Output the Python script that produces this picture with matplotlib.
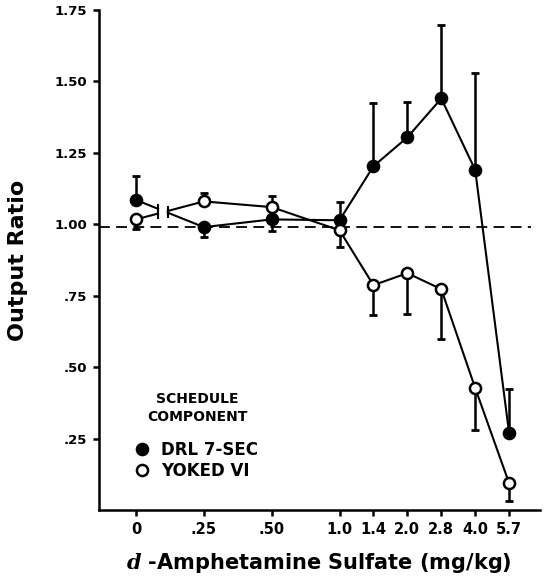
import numpy as np
import matplotlib
matplotlib.use("Agg")
import matplotlib.pyplot as plt

plt.rcParams['font.family'] = ['DejaVu Sans']
plt.rcParams['font.weight'] = 'bold'
plt.rcParams['axes.labelweight'] = 'bold'
plt.rcParams['mathtext.fontset'] = 'custom'
plt.rcParams['mathtext.it'] = 'DejaVu Serif:italic:bold'

# doses (mg/kg) and their slot on the categorical axis
doses = ['0', '.25', '.50', '1.0', '1.4', '2.0', '2.8', '4.0', '5.7']
slots = [0, 2, 4, 6, 7, 8, 9, 10, 11]

drl = [1.085, 0.99, 1.017, 1.014, 1.203, 1.304, 1.44, 1.19, 0.269]
drl_up = [0.085, 0, 0, 0.063, 0.22, 0.123, 0.256, 0.34, 0.154]
drl_lo = [0, 0.035, 0.042, 0, 0, 0, 0, 0, 0]

yoked = [1.017, 1.08, 1.06, 0.979, 0.787, 0.829, 0.773, 0.427, 0.094]
yoked_up = [0, 0.028, 0.038, 0, 0, 0, 0, 0, 0]
yoked_lo = [0.034, 0, 0, 0.059, 0.105, 0.144, 0.173, 0.147, 0.063]

yticks = [0.25, 0.50, 0.75, 1.00, 1.25, 1.50, 1.75]
ytick_labels = ['.25', '.50', '.75', '1.00', '1.25', '1.50', '1.75']

gap = (0.65, 0.94)  # break in the connecting line between 0 and .25

fig = plt.figure(figsize=(5.44, 5.81), dpi=100)
ax = fig.add_axes([0.182, 0.122, 0.81, 0.861])

ax.axhline(0.99, xmin=0, xmax=0.98, color='black', lw=1.3, ls=(0, (6, 3.5)), zorder=1)

for vals, up, lo, face, lab in [(drl, drl_up, drl_lo, 'black', 'DRL 7-SEC'),
                                (yoked, yoked_up, yoked_lo, 'white', 'YOKED VI')]:
    x = np.array(slots, dtype=float)
    y = np.array(vals)
    # line, broken between the first two doses
    yg = np.interp(gap, x[:2], y[:2])
    ax.plot([x[0], gap[0]], [y[0], yg[0]], color='black', lw=1.5, zorder=2)
    ax.plot([gap[1]] + list(x[1:]), [yg[1]] + list(y[1:]), color='black', lw=1.5, zorder=2)
    ax.plot(gap, yg, ls='none', marker='|', ms=7, mew=1.5, color='black', zorder=2)
    ax.errorbar(x, y, yerr=[lo, up], fmt='none', ecolor='black', elinewidth=1.8,
                capsize=3, capthick=2, zorder=3)
    ax.plot(x, y, ls='none', marker='o', ms=8, mfc=face, mec='black', mew=1.8,
            zorder=4, label=lab)

ax.set_xlim(-1.09, 11.9)
ax.set_ylim(0, 1.75)
ax.set_xticks(slots)
ax.set_xticklabels(doses)
ax.set_yticks(yticks)
ax.set_yticklabels(ytick_labels)
for s in ['top', 'right']:
    ax.spines[s].set_visible(False)
for s in ['left', 'bottom']:
    ax.spines[s].set_linewidth(1.8)
ax.tick_params(direction='out', length=4, width=1.8, pad=4.5)
ax.tick_params(axis='y', labelsize=9.5)
ax.tick_params(axis='x', labelsize=10.5)

ax.set_ylabel('Output Ratio', fontsize=16, labelpad=19)
ax.set_xlabel(r'$d$ -Amphetamine Sulfate (mg/kg)', fontsize=15, labelpad=10)

leg = ax.legend(loc='upper left', bbox_to_anchor=(0.085, 0.236), frameon=False,
                title='SCHEDULE\nCOMPONENT', fontsize=12, handlelength=0.7,
                handletextpad=0.75, labelspacing=0.2, borderpad=0, borderaxespad=0)
leg.get_title().set_fontsize(10)
leg.get_title().set_fontweight('bold')
leg.get_title().set_linespacing(1.35)
leg.get_title().set_multialignment('center')
leg._legend_box.sep = 12

fig.savefig('out.png', dpi=100)
